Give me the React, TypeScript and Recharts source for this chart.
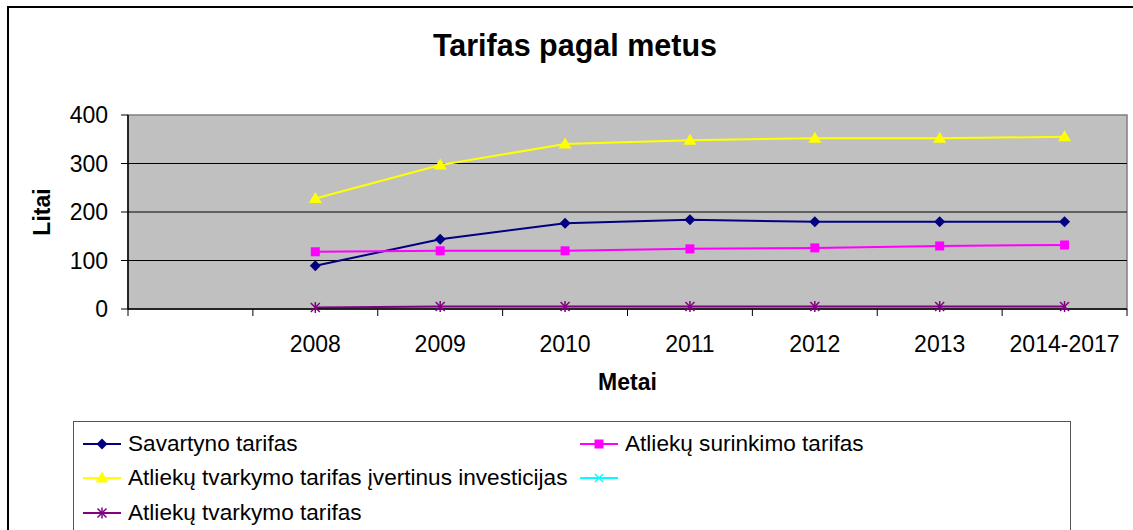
import React from "react";
import {
  ComposedChart,
  Line,
  XAxis,
  YAxis,
  ReferenceArea,
  ReferenceLine,
} from "recharts";

const categories = ["", "2008", "2009", "2010", "2011", "2012", "2013", "2014-2017"];
const savartyno = [null, 89, 144, 177, 184, 180, 180, 180];
const surinkimo = [null, 118, 120, 120, 124, 126, 130, 132];
const suInvesticijomis = [null, 228, 297, 340, 348, 352, 352, 355];
const tuscia = [null, null, null, null, null, null, null, null];
const tvarkymo = [null, 3, 5, 5, 5, 5, 5, 5];
const yTicks = [0, 100, 200, 300, 400];
const gridValues = [100, 200, 300];

const series = [
  { key: "sav", name: "Savartyno tarifas", values: savartyno, color: "#000080", marker: "diamond" },
  { key: "sur", name: "Atliekų surinkimo tarifas", values: surinkimo, color: "#FF00FF", marker: "square" },
  { key: "inv", name: "Atliekų tvarkymo tarifas įvertinus investicijas", values: suInvesticijomis, color: "#FFFF00", marker: "triangle" },
  { key: "cyan", name: "", values: tuscia, color: "#00FFFF", marker: "x" },
  { key: "tv", name: "Atliekų tvarkymo tarifas", values: tvarkymo, color: "#800080", marker: "star" },
];

const data = categories.map((c, i) => {
  const row: Record<string, any> = { cat: c };
  series.forEach((s) => (row[s.key] = s.values[i]));
  return row;
});

const FONT = "'Liberation Sans', Arial, sans-serif";
const W = 1133;
const H = 530;
const PLOT_LEFT = 128;
const PLOT_RIGHT = 1127;
const PLOT_TOP = 115;
const PLOT_BOTTOM = 309;
const BAND = (PLOT_RIGHT - PLOT_LEFT) / categories.length;

const Marker = ({ type, cx, cy, color }: { type: string; cx: number; cy: number; color: string }) => {
  if (type === "diamond")
    return <polygon points={`${cx},${cy - 5.5} ${cx + 5.5},${cy} ${cx},${cy + 5.5} ${cx - 5.5},${cy}`} fill={color} />;
  if (type === "square") return <rect x={cx - 4.5} y={cy - 4.5} width={9} height={9} fill={color} />;
  if (type === "triangle")
    return <polygon points={`${cx},${cy - 6.5} ${cx + 6.5},${cy + 4.5} ${cx - 6.5},${cy + 4.5}`} fill={color} />;
  if (type === "x")
    return (
      <g stroke={color} strokeWidth={1.5}>
        <line x1={cx - 4} y1={cy - 4} x2={cx + 4} y2={cy + 4} />
        <line x1={cx - 4} y1={cy + 4} x2={cx + 4} y2={cy - 4} />
      </g>
    );
  return (
    <g stroke={color} strokeWidth={1.5}>
      <line x1={cx - 4.5} y1={cy - 4.5} x2={cx + 4.5} y2={cy + 4.5} />
      <line x1={cx - 4.5} y1={cy + 4.5} x2={cx + 4.5} y2={cy - 4.5} />
      <line x1={cx} y1={cy - 5.5} x2={cx} y2={cy + 5.5} />
    </g>
  );
};

const makeDot = (type: string, color: string) => (props: any) => {
  const { cx, cy, index, value } = props;
  if (value == null || cx == null || cy == null) return <g key={`d${index}`} />;
  return (
    <g key={`d${index}`}>
      <Marker type={type} cx={cx} cy={cy} color={color} />
    </g>
  );
};

const XTick = (props: any) => {
  const { x, payload, index } = props;
  const left = x - BAND / 2;
  return (
    <g>
      <line x1={left} y1={PLOT_BOTTOM} x2={left} y2={PLOT_BOTTOM + 7} stroke="#000" />
      {index === categories.length - 1 && (
        <line x1={x + BAND / 2} y1={PLOT_BOTTOM} x2={x + BAND / 2} y2={PLOT_BOTTOM + 7} stroke="#000" />
      )}
      <text x={x} y={PLOT_BOTTOM + 43} textAnchor="middle" fontSize={23} fill="#000" fontFamily={FONT}>
        {payload.value}
      </text>
    </g>
  );
};

const LegendItem = ({ s, left, top }: { s: (typeof series)[number]; left: number; top: number }) => (
  <div style={{ position: "absolute", left, top: top - 12, height: 24, display: "flex", alignItems: "center" }}>
    <svg width={38} height={16} style={{ display: "block" }}>
      <line x1={0} y1={8} x2={38} y2={8} stroke={s.color} strokeWidth={2} />
      <Marker type={s.marker} cx={19} cy={8} color={s.color} />
    </svg>
    <span style={{ marginLeft: 7, fontSize: 22.6, whiteSpace: "nowrap", color: "#000" }}>{s.name}</span>
  </div>
);

const legendPos = [
  [9, 22],
  [506, 22],
  [9, 56],
  [506, 56],
  [9, 91],
];

export default function App() {
  return (
    <div style={{ position: "absolute", left: 0, top: 0, width: W, height: H, background: "#fff", fontFamily: FONT, overflow: "hidden" }}>
      <div
        style={{
          position: "absolute",
          left: 7,
          top: 6,
          width: W,
          height: H,
          borderLeft: "2px solid #000",
          borderTop: "2px solid #000",
        }}
      />
      <div style={{ position: "absolute", left: 0, width: 1150, top: 28, textAlign: "center", fontSize: 30.5, fontWeight: "bold" }}>
        Tarifas pagal metus
      </div>
      <div style={{ position: "absolute", left: 0, top: 0 }}>
        <ComposedChart
          width={W}
          height={H}
          data={data}
          margin={{ top: PLOT_TOP, right: W - PLOT_RIGHT, bottom: H - PLOT_BOTTOM - 60, left: PLOT_LEFT - 60 }}
        >
          <ReferenceArea y1={0} y2={400} fill="#C0C0C0" fillOpacity={1} stroke="#808080" strokeWidth={1.5} />
          {gridValues.map((v) => (
            <ReferenceLine key={v} y={v} stroke="#000" strokeWidth={1.2} />
          ))}
          <XAxis
            dataKey="cat"
            scale="band"
            interval={0}
            height={60}
            axisLine={{ stroke: "#000", strokeWidth: 1.5 }}
            tickLine={false}
            tick={<XTick />}
          />
          <YAxis
            width={60}
            domain={[0, 400]}
            ticks={yTicks}
            tickSize={7}
            tickMargin={13}
            axisLine={{ stroke: "#000", strokeWidth: 1.5 }}
            tickLine={{ stroke: "#000" }}
            tick={{ fontSize: 23, fill: "#000", fontFamily: FONT }}
          />
          {series.map((s) => (
            <Line
              key={s.key}
              dataKey={s.key}
              name={s.name}
              type="linear"
              stroke={s.color}
              strokeWidth={2}
              dot={makeDot(s.marker, s.color)}
              activeDot={false}
              isAnimationActive={false}
            />
          ))}
        </ComposedChart>
      </div>
      <div
        style={{
          position: "absolute",
          left: 42,
          top: 212,
          transform: "translate(-50%, -50%) rotate(-90deg)",
          transformOrigin: "center",
          fontSize: 23,
          fontWeight: "bold",
          whiteSpace: "nowrap",
        }}
      >
        Litai
      </div>
      <div style={{ position: "absolute", left: PLOT_LEFT, width: PLOT_RIGHT - PLOT_LEFT, top: 369, textAlign: "center", fontSize: 23, fontWeight: "bold" }}>
        Metai
      </div>
      <div
        style={{
          position: "absolute",
          left: 73,
          top: 421,
          width: 998,
          height: 120,
          border: "1.5px solid #555",
          boxSizing: "border-box",
        }}
      >
        {series.map((s, i) => (
          <LegendItem key={s.key} s={s} left={legendPos[i][0]} top={legendPos[i][1]} />
        ))}
      </div>
    </div>
  );
}
